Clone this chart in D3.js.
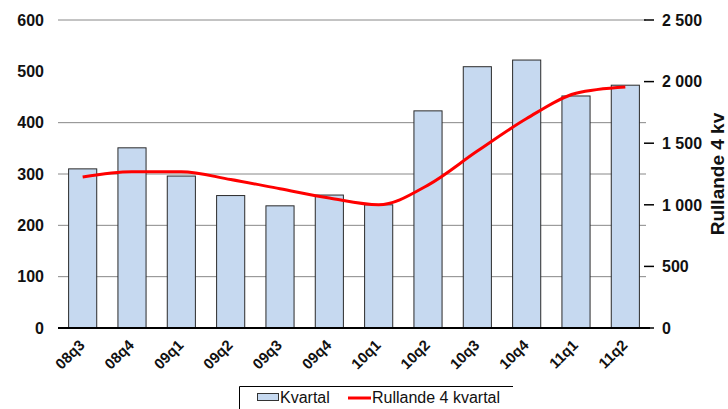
<!DOCTYPE html>
<html><head><meta charset="utf-8">
<script src="https://cdn.jsdelivr.net/npm/d3@7"></script>
<style>body{margin:0;background:#fff}svg{display:block;font-family:"Liberation Sans",Arial,sans-serif}</style>
</head><body>
<svg id="c" width="728" height="409"></svg>
<script>
const categories = ["08q3","08q4","09q1","09q2","09q3","09q4","10q1","10q2","10q3","10q4","11q1","11q2"];
const kvartal = [310, 351, 296, 258, 238, 259, 240, 423, 509, 522, 452, 473];
const rullande = [1226, 1268, 1268, 1205, 1130, 1055, 1000, 1160, 1436, 1700, 1905, 1956];
const leftTicks = [0, 100, 200, 300, 400, 500, 600];
const gridTicks = [100, 200, 300, 400, 600];
const rightTicks = [0, 500, 1000, 1500, 2000, 2500];

const svg = d3.select("#c");
const x = d3.scaleBand().domain(categories).range([58, 650]).paddingInner(0.43).paddingOuter(0.215);
const yL = d3.scaleLinear().domain([0, 600]).range([328, 20]);
const yR = d3.scaleLinear().domain([0, 2500]).range([328, 20]);
const fmt = v => d3.format(",")(v).replace(/,/g, " ");

// grid
svg.append("g").selectAll("line").data(gridTicks).join("line")
  .attr("x1", 58).attr("x2", 646).attr("y1", d => yL(d)).attr("y2", d => yL(d))
  .attr("stroke", "#888").attr("stroke-width", 1);

// left labels
svg.append("g").selectAll("text").data(leftTicks).join("text")
  .attr("x", 44).attr("y", d => yL(d)).attr("dy", "0.36em").attr("text-anchor", "end")
  .attr("font-size", 16).attr("font-weight", "bold").attr("fill", "#111").text(d => d);

// bars
svg.append("g").selectAll("rect").data(kvartal).join("rect")
  .attr("x", (d, i) => x(categories[i])).attr("width", x.bandwidth())
  .attr("y", d => yL(d)).attr("height", d => yL(0) - yL(d))
  .attr("fill", "#c6d9f0").attr("stroke", "#2a2a2a").attr("stroke-width", 1);

// x axis
svg.append("line").attr("x1", 58).attr("x2", 650).attr("y1", yL(0)).attr("y2", yL(0))
  .attr("stroke", "#000").attr("stroke-width", 2);

// x labels
svg.append("g").selectAll("text").data(categories).join("text")
  .attr("text-anchor", "end").attr("font-size", 15).attr("font-weight", "bold").attr("fill", "#111")
  .attr("transform", d => `translate(${x(d) + x.bandwidth() / 2 + 3},${346}) rotate(-45)`)
  .text(d => d);

// right axis
svg.append("g").selectAll("line").data(rightTicks).join("line")
  .attr("x1", 644).attr("x2", 654).attr("y1", d => yR(d)).attr("y2", d => yR(d))
  .attr("stroke", "#000").attr("stroke-width", 1.5);
svg.append("g").selectAll("text").data(rightTicks).join("text")
  .attr("x", 662).attr("y", d => yR(d)).attr("dy", "0.36em")
  .attr("font-size", 16).attr("font-weight", "bold").attr("fill", "#111").text(d => fmt(d));
svg.append("text").attr("transform", "translate(724,174) rotate(-90)")
  .attr("text-anchor", "middle").attr("font-size", 19).attr("font-weight", "bold").attr("fill", "#111")
  .text("Rullande 4 kv");

// line
const line = d3.line().x((d, i) => x(categories[i]) + x.bandwidth() / 2).y(d => yR(d)).curve(d3.curveMonotoneX);
svg.append("path").datum(rullande).attr("d", line).attr("fill", "none")
  .attr("stroke", "#ff0000").attr("stroke-width", 3);

// legend
const lg = svg.append("g");
lg.append("path").attr("d", "M239.5,412 V386.5 H513").attr("fill", "none").attr("stroke", "#000").attr("stroke-width", 1);
lg.append("rect").attr("x", 257.5).attr("y", 393.5).attr("width", 21).attr("height", 7)
  .attr("fill", "#c6d9f0").attr("stroke", "#333").attr("stroke-width", 1);
lg.append("text").attr("x", 280).attr("y", 403).attr("font-size", 16).attr("fill", "#111").text("Kvartal");
lg.append("line").attr("x1", 348).attr("x2", 371).attr("y1", 398).attr("y2", 398).attr("stroke", "#ff0000").attr("stroke-width", 3);
lg.append("text").attr("x", 372).attr("y", 403).attr("font-size", 16).attr("fill", "#111").text("Rullande 4 kvartal");
</script>
</body></html>
